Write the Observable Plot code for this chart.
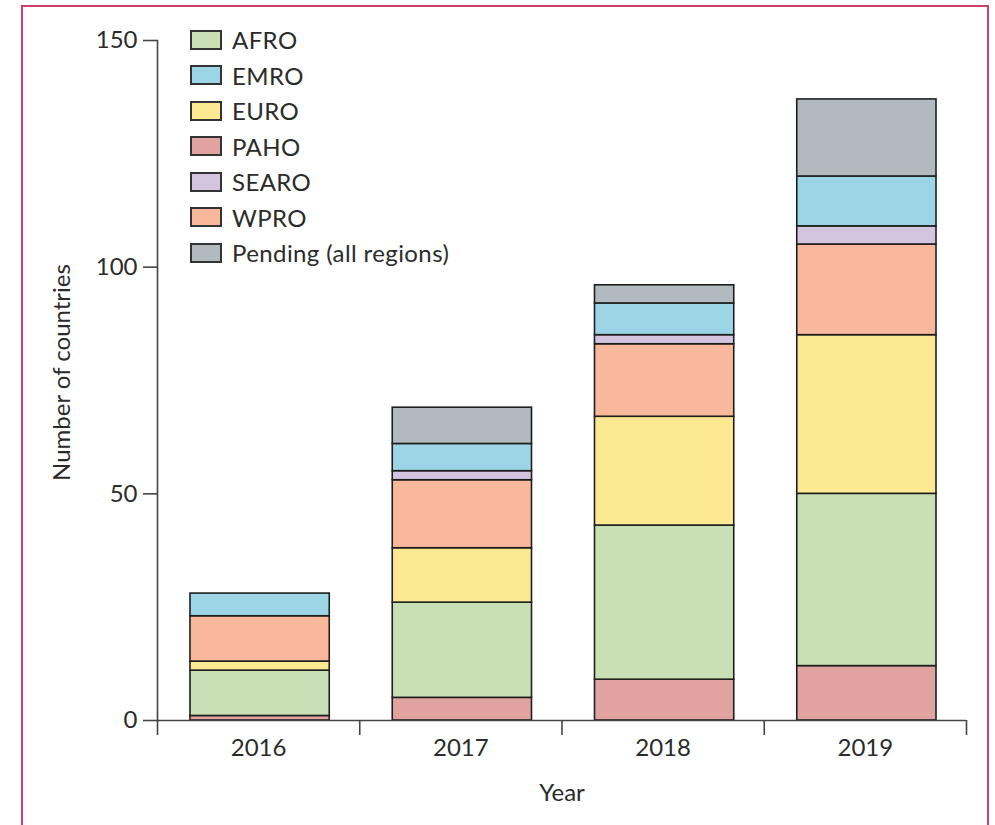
<!DOCTYPE html>
<html>
<head>
<meta charset="utf-8">
<script src="https://cdn.jsdelivr.net/npm/d3@7"></script>
<script src="https://cdn.jsdelivr.net/npm/@observablehq/plot@0.6"></script>
<style>
  html, body { margin: 0; padding: 0; background: #fff; }
  body { width: 995px; height: 825px; overflow: hidden; position: relative; font-family: Lato, "Open Sans", sans-serif; }
  #frame { position: absolute; left: 21px; top: 5px; width: 968px; height: 900px; border: 2px solid #cf416a; box-sizing: border-box; }
  #chart { position: absolute; left: 0; top: 0; }
  #legend { position: absolute; left: 190px; top: 22px; }
  .item { display: flex; align-items: center; height: 35.5px; }
  .sw { width: 32px; height: 20px; border: 2px solid #333; box-sizing: border-box; margin-right: 10px; }
  .lb { font-size: 24px; color: #2b2b2b; letter-spacing: 0.4px; }
</style>
</head>
<body>
<div id="frame"></div>
<div id="chart"></div>
<div id="legend"></div>
<script>
const years = [2016, 2017, 2018, 2019];
const stackOrder = ["PAHO", "AFRO", "EURO", "WPRO", "SEARO", "EMRO", "Pending (all regions)"];
const legendOrder = ["AFRO", "EMRO", "EURO", "PAHO", "SEARO", "WPRO", "Pending (all regions)"];
const colors = {
  "AFRO": "#c9e0b4",
  "EMRO": "#9bd5e6",
  "EURO": "#fde992",
  "PAHO": "#e0a3a0",
  "SEARO": "#d3c4e0",
  "WPRO": "#f9b89b",
  "Pending (all regions)": "#b3babf"
};
const PAHO = [1, 5, 9, 12];
const AFRO = [10, 21, 34, 38];
const EURO = [2, 12, 24, 35];
const WPRO = [10, 15, 16, 20];
const SEARO = [0, 2, 2, 4];
const EMRO = [5, 6, 7, 11];
const Pending = [0, 8, 4, 17];
const series = { PAHO, AFRO, EURO, WPRO, SEARO, EMRO, "Pending (all regions)": Pending };
const yTicks = [0, 50, 100, 150];

const data = [];
years.forEach((yr, i) => {
  stackOrder.forEach(r => {
    const v = series[r][i];
    if (v > 0) data.push({ year: yr, region: r, value: v });
  });
});

const boundaries = [years[0] - 0.5, ...years.map(y => y + 0.5)];

const plot = Plot.plot({
  width: 995,
  height: 825,
  marginLeft: 157,
  marginRight: 29,
  marginTop: 40,
  marginBottom: 105,
  style: { fontFamily: "Lato, 'Open Sans', sans-serif", fontSize: "24px", color: "#2b2b2b", background: "transparent" },
  x: { domain: [years[0] - 0.5, years[years.length - 1] + 0.5] },
  y: { domain: [0, 150] },
  color: { domain: legendOrder, range: legendOrder.map(r => colors[r]) },
  marks: [
    Plot.rectY(data, Plot.stackY({
      x1: d => d.year - 0.5,
      x2: d => d.year + 0.5,
      y: "value",
      fill: "region",
      stroke: "#1e1e1e",
      strokeWidth: 1.6,
      insetLeft: 33,
      insetRight: 30
    })),
    Plot.axisY({ ticks: yTicks, tickSize: 14, tickPadding: 6, label: null, stroke: "#444", strokeWidth: 1.6, fontSize: 24 }),
    Plot.axisX({ ticks: boundaries, tickSize: 15, tickFormat: () => "", label: null, stroke: "#444", strokeWidth: 1.6 }),
    Plot.axisX({ ticks: years, tickSize: 0, tickPadding: 18, tickFormat: d => String(d), label: null, fontSize: 24 }),
    Plot.ruleY([0], { stroke: "#444", strokeWidth: 1.6 }),
    Plot.frame({ anchor: "left", stroke: "#444", strokeWidth: 1.6 }),
    Plot.text(["Year"], { frameAnchor: "bottom", dy: 80, fontSize: 24, fill: "#2b2b2b" }),
    Plot.text(["Number of countries"], { frameAnchor: "left", textAnchor: "middle", dx: -95, dy: -8, rotate: -90, fontSize: 24, fill: "#2b2b2b" })
  ]
});
document.getElementById("chart").appendChild(plot);

const legend = document.getElementById("legend");
legendOrder.forEach(r => {
  const it = document.createElement("div");
  it.className = "item";
  const sw = document.createElement("div");
  sw.className = "sw";
  sw.style.background = colors[r];
  const lb = document.createElement("span");
  lb.className = "lb";
  lb.textContent = r;
  it.appendChild(sw);
  it.appendChild(lb);
  legend.appendChild(it);
});
</script>
</body>
</html>
